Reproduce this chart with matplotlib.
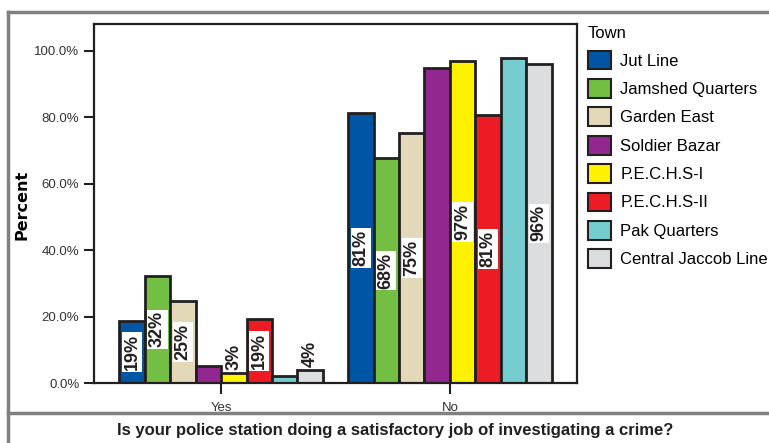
import numpy as np
import matplotlib.pyplot as plt
from matplotlib.lines import Line2D
from matplotlib.patches import Patch
from matplotlib.ticker import FuncFormatter

towns = ['Jut Line', 'Jamshed Quarters', 'Garden East', 'Soldier Bazar',
         'P.E.C.H.S-I', 'P.E.C.H.S-II', 'Pak Quarters', 'Central Jaccob Line']
colors = ['#0055A5', '#72BF44', '#E3D9B8', '#92278F',
          '#FFF200', '#ED1C24', '#76CDD0', '#DCDDDE']
answers = ['Yes', 'No']
yes_pct = [18.7, 32.3, 24.7, 5.1, 3.0, 19.2, 2.1, 3.8]
no_pct = [81.3, 67.7, 75.3, 94.9, 97.0, 80.8, 97.9, 96.2]
# labels printed on the bars (None = no label)
yes_lbl = ['19%', '32%', '25%', None, '3%', '19%', None, '4%']
no_lbl = ['81%', '68%', '75%', None, '97%', '81%', None, '96%']

plt.rcParams['font.family'] = ['Liberation Sans', 'DejaVu Sans']
edge = '#231F20'

fig = plt.figure(figsize=(7.69, 4.43), dpi=100)
ax = fig.add_axes([94/769, 1-383/443, (577-94)/769, (383-24)/443])

n = len(towns)
group_x = np.array([0, n + 1])
offs = np.arange(n) - (n - 1) / 2

for vals, lbls, gx in [(yes_pct, yes_lbl, group_x[0]), (no_pct, no_lbl, group_x[1])]:
    for i in range(n):
        x = gx + offs[i]
        ax.bar(x, vals[i], width=1.0, color=colors[i], edgecolor=edge, linewidth=2, zorder=2)
        if lbls[i] is None:
            continue
        if vals[i] < 10:
            ax.text(x, vals[i] + 1, lbls[i], rotation=90, ha='center', va='bottom',
                    fontsize=13, fontweight='bold', color='#231F20', zorder=3)
        else:
            ax.text(x, vals[i] / 2, lbls[i], rotation=90, ha='center', va='center',
                    fontsize=13, fontweight='bold', color='#231F20',
                    bbox=dict(facecolor='white', edgecolor='none', pad=1.2), zorder=3)

ax.set_xlim(-n / 2 - 1, group_x[1] + n / 2 + 1)
ax.set_ylim(0, 108.1)
ax.set_xticks(group_x)
ax.set_xticklabels(answers, fontsize=9.5, color='#333333')
ax.set_yticks(np.arange(0, 101, 20))
ax.yaxis.set_major_formatter(FuncFormatter(lambda v, p: '%.1f%%' % v))
ax.tick_params(axis='y', labelsize=9.5, labelcolor='#333333', length=7, width=1.5, color=edge)
ax.tick_params(axis='x', length=8, width=1.5, color=edge, pad=6)
for s in ax.spines.values():
    s.set_linewidth(1.6)
    s.set_color(edge)
ax.set_ylabel('Percent', fontsize=11.5, fontweight='bold', family=['DejaVu Sans'])
ax.yaxis.set_label_coords((30-94)/483, (383-205)/359)

handles = [Patch(facecolor=c, edgecolor=edge, linewidth=1.5) for c in colors]
leg = fig.legend(handles, towns, title='Town', loc='upper left',
                 bbox_to_anchor=(588/769, 1-26/443), frameon=False,
                 fontsize=12, title_fontsize=12, handlelength=1.35, handleheight=1.35,
                 handletextpad=0.6, labelspacing=0.58, borderaxespad=0, borderpad=0,
                 alignment='left')

# gray frame lines
g = '#808080'
fig.add_artist(Line2D([8/769, 1], [1-12/443, 1-12/443], color=g, lw=2.5))
fig.add_artist(Line2D([8/769, 8/769], [0, 1-12/443], color=g, lw=2.5))
fig.add_artist(Line2D([8/769, 1], [1-413/443, 1-413/443], color=g, lw=2.5))

fig.text(395/769, 1-430/443, 'Is your police station doing a satisfactory job of investigating a crime?',
         ha='center', va='center', fontsize=12, fontweight='bold', color='#231F20')

fig.savefig('out.png', dpi=100)
